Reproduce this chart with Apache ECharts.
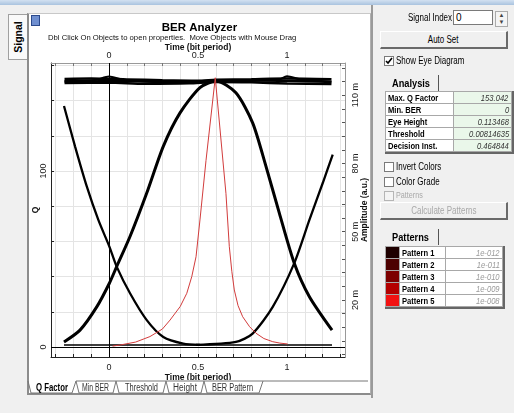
<!DOCTYPE html>
<html lang="en">
<head>
<meta charset="UTF-8">
<title>BER Analyzer</title>
<script src="https://cdn.jsdelivr.net/npm/echarts@6/dist/echarts.min.js"></script>
<style>
    body {
        margin: 0;
        width: 514px;
        height: 413px;
        background: #f0f0f0;
        font-family: "Liberation Sans", Arial, sans-serif;
        font-size: 10px;
        color: #000;
        position: relative;
        overflow: hidden;
    }
    .abs { position: absolute; white-space: nowrap; }
    /* 窄字体效果 */
    .n { display: inline-block; transform: scaleX(0.8); transform-origin: 0 50%; }
    .nr { display: inline-block; transform: scaleX(0.8); transform-origin: 100% 50%; }
    .nc { display: inline-block; transform: scaleX(0.8); transform-origin: 50% 50%; }
    .topbar { left: 0; top: 0; width: 514px; height: 5px; background: linear-gradient(#d3e1f1, #a9c3df); }
    .sidetab { left: 8px; top: 14px; width: 18px; height: 44px; background: #fafafa; border: 1px solid #a0a0a0; border-right: none; }
    .sidetab span { position: absolute; left: 50%; top: 50%; transform: translate(-50%, -50%) rotate(-90deg); font-weight: bold; font-size: 10.5px; }
    .panel { left: 27px; top: 13px; width: 341px; height: 379px; background: #fff; border-left: 2px solid #8c8c8c; border-top: 1px solid #c8c8c8; border-bottom: 2px solid #8c8c8c; border-right: 1px solid #b0b0b0; }
    #chart { left: 29px; top: 14px; width: 341px; height: 366px; }
    .icon { left: 31px; top: 15px; width: 7px; height: 9px; background: #6f8fd0; border: 1px solid #2c4a8c; }
    .rightline { left: 371px; top: 5px; width: 2px; height: 393px; background: #9a9a9a; }
    .btn { height: 15px; background: #f0f0f0; border: 1px solid #fff; border-right: 2px solid #6a6a6a; border-bottom: 2px solid #6a6a6a; text-align: center; line-height: 15px; box-sizing: content-box; }
    .chk { width: 8px; height: 8px; background: #fff; border: 1px solid #7a7a7a; }
    .chk.off { background: #f4f4f4; border-color: #b5b5b5; }
    .tabhead { font-weight: bold; font-size: 11px; border-right: 1px solid #555; padding: 2px 0 2px 7px; width: 46px; }
    table { border-collapse: collapse; table-layout: fixed; font-size: 9.5px; }
    td { border: 1px solid #a8a8a8; height: 11px; padding: 0 2px; line-height: 11px; white-space: nowrap; overflow: hidden; }
    .tbl { border-right: 2px solid #666; border-bottom: 2px solid #666; background: #fff; }
    .lab { font-weight: bold; }
    .val { font-style: italic; text-align: right; background: #eaf7ea; color: #333; }
    .pval { font-style: italic; text-align: right; color: #9a9a9a; }
</style>
</head>
<body>
<div class="abs topbar"></div>
<div class="abs sidetab"><span>Signal</span></div>
<div class="abs panel"></div>
<div class="abs" id="chart"></div>
<div class="abs icon"></div>
<svg class="abs" style="left:27px;top:379px" width="345" height="16">
    <polyline points="1,2 4,14 45,14 49,2 341,2" fill="none" stroke="#777"/>
    <polyline points="49,2 52,14 86,14 89,2" fill="none" stroke="#777"/>
    <polyline points="89,2 92,14 136,14 139,2" fill="none" stroke="#777"/>
    <polyline points="139,2 142,14 174,14 177,2" fill="none" stroke="#777"/>
    <polyline points="177,2 180,14 232,14 236,2" fill="none" stroke="#777"/>
    <text x="9" y="12" font-size="10" font-weight="bold" font-family="Liberation Sans" textLength="32" lengthAdjust="spacingAndGlyphs">Q Factor</text>
    <text x="55" y="12" font-size="10" fill="#333" font-family="Liberation Sans" textLength="27" lengthAdjust="spacingAndGlyphs">Min BER</text>
    <text x="98" y="12" font-size="10" fill="#333" font-family="Liberation Sans" textLength="33" lengthAdjust="spacingAndGlyphs">Threshold</text>
    <text x="146" y="12" font-size="10" fill="#333" font-family="Liberation Sans" textLength="24" lengthAdjust="spacingAndGlyphs">Height</text>
    <text x="185" y="12" font-size="10" fill="#333" font-family="Liberation Sans" textLength="41" lengthAdjust="spacingAndGlyphs">BER Pattern</text>
</svg>
<div class="abs rightline"></div>

<!-- right side controls -->
<div class="abs" style="left:380px;top:12px;width:72px;text-align:right"><span class="nr">Signal Index</span></div>
<div class="abs" style="left:453px;top:10px;width:40px;height:15px;background:#fff;border:1px solid #7a7a7a;line-height:13px;padding-left:2px;box-sizing:border-box;">0</div>
<div class="abs" style="left:495px;top:11px;width:11px;height:14px;border:1px solid #aaa;background:#f4f4f4;font-size:6px;line-height:7px;text-align:center;color:#444">▲<br>▼</div>
<div class="abs btn" style="left:380px;top:31px;width:125px"><span class="nc">Auto Set</span></div>
<div class="abs chk" style="left:384px;top:56px"><svg width="8" height="8" style="position:absolute;left:0;top:0"><polyline points="1,4 3,6 7,1" fill="none" stroke="#000" stroke-width="1.6"/></svg></div>
<div class="abs" style="left:396px;top:55px"><span class="n">Show Eye Diagram</span></div>

<div class="abs tabhead" style="left:385px;top:75px"><span class="n" style="transform:scaleX(0.84)">Analysis</span></div>
<div class="abs tbl" style="left:385px;top:91px">
    <table id="analysis"><colgroup><col style="width:57px"><col style="width:58px"></colgroup></table>
</div>

<div class="abs chk" style="left:384px;top:162px"></div>
<div class="abs" style="left:396px;top:161px"><span class="n">Invert Colors</span></div>
<div class="abs chk" style="left:384px;top:177px"></div>
<div class="abs" style="left:396px;top:176px"><span class="n">Color Grade</span></div>
<div class="abs chk off" style="left:384px;top:191px"></div>
<div class="abs" style="left:396px;top:190px;color:#a8a8a8;font-size:9px"><span class="n">Patterns</span></div>
<div class="abs btn" style="left:380px;top:202px;width:125px;color:#a8a8a8"><span class="nc">Calculate Patterns</span></div>

<div class="abs tabhead" style="left:385px;top:229px"><span class="n" style="transform:scaleX(0.84)">Patterns</span></div>
<div class="abs tbl" style="left:385px;top:246px">
    <table id="patterns"><colgroup><col style="width:14px"><col style="width:40px"><col style="width:57px"></colgroup></table>
</div>

<script>
    // 右侧面板数据
    var analysisNames = ['Max. Q Factor', 'Min. BER', 'Eye Height', 'Threshold', 'Decision Inst.'];
    var analysisValues = ['153.042', '0', '0.113468', '0.00814635', '0.464844'];
    var patternNames = ['Pattern 1', 'Pattern 2', 'Pattern 3', 'Pattern 4', 'Pattern 5'];
    var patternValues = ['1e-012', '1e-011', '1e-010', '1e-009', '1e-008'];
    var patternColors = ['#1e0000', '#4c0000', '#7c0000', '#b40000', '#f21212'];

    // 坐标轴刻度
    var timeTicks = [-0.3, -0.2, -0.1, 0, 0.1, 0.2, 0.3, 0.4, 0.5, 0.6, 0.7, 0.8, 0.9, 1, 1.1, 1.2, 1.3];
    var timeLabels = [0, 0.5, 1];
    var qTicks = [0, 20, 40, 60, 80, 100, 120, 140, 160];
    var qLabels = [0, 100];
    var ampTicks = [-4, 2, 8, 14, 20, 26, 32, 38, 44, 50, 56, 62, 68, 74, 80, 86, 92, 98, 104, 110, 116, 122];
    var ampLabels = [20, 50, 80, 110];

    // Q 因子曲线 [time, Q]
    var qFactor = [[0.02, 0.5], [0.062, 1.1], [0.15, 2.8], [0.23, 5.9], [0.3, 10.2], [0.343, 15.3], [0.4, 23.0],
        [0.437, 30.5], [0.465, 40.0], [0.489, 51.3], [0.511, 72.2], [0.545, 106.0], [0.597, 153.0],
        [0.657, 87.3], [0.676, 57.0], [0.69, 43.0], [0.704, 32.4], [0.725, 23.5], [0.751, 17.2],
        [0.79, 11.5], [0.826, 7.8], [0.87, 4.8], [0.92, 3.0], [0.96, 2.2], [1.004, 1.7]];

    // 眼图轨迹 [time, amplitude (m)]
    var fallLeft = [[-0.253, 105.2], [-0.191, 87.5], [-0.125, 69.9], [-0.06, 55.2], [0.002, 43.5], [0.043, 34.7],
        [0.118, 23.0], [0.212, 11.2], [0.305, 3.8], [0.417, 0.9], [0.511, 0.3]];
    var pulse = [[-0.253, 1.6], [-0.163, 6.8], [-0.069, 17.0], [0.002, 27.4], [0.043, 34.7], [0.118, 47.9],
        [0.212, 67.0], [0.305, 87.5], [0.399, 102.2], [0.511, 113.3], [0.601, 116.2], [0.713, 111.0],
        [0.807, 97.8], [0.882, 78.7], [0.957, 58.2], [1.041, 36.2], [1.126, 21.5], [1.253, 6.8]];
    var riseRight = [[0.489, 0.3], [0.713, 1.6], [0.807, 5.3], [0.92, 17.0], [1.041, 36.2], [1.126, 55.2],
        [1.201, 71.4], [1.257, 83.9]];
    var railLow = [[-0.253, 0.3], [1.253, 0.3]];
    var railA = [[-0.25, 117.1], [-0.1, 117.3], [0.1, 116.9], [0.3, 116.5], [0.5, 116.3], [0.6, 116.7], [0.8, 117.0], [1.0, 117.3], [1.25, 117.0]];
    var railB = [[-0.25, 115.3], [0.0, 115.5], [0.2, 115.0], [0.45, 115.2], [0.6, 115.8], [0.8, 115.6], [1.0, 115.1], [1.25, 114.9]];
    var railC = [[-0.25, 116.2], [-0.08, 116.6], [0.0, 118.2], [0.08, 116.8], [0.3, 115.8], [0.55, 116.0], [0.75, 116.4], [0.95, 116.7], [1.0, 118.3], [1.08, 116.8], [1.25, 116.0]];
    var railD = [[-0.25, 116.0], [0.15, 116.1], [0.35, 115.7], [0.6, 116.3], [0.85, 116.4], [1.25, 115.8]];

    function nar(text, origin) {
        return '<span class="' + origin + '">' + text + '</span>';
    }
    var aRows = '';
    analysisNames.forEach(function (n, i) {
        aRows += '<tr><td class="lab">' + nar(n, 'n') + '</td><td class="val">' + nar(analysisValues[i], 'nr') + '</td></tr>';
    });
    document.getElementById('analysis').insertAdjacentHTML('beforeend', aRows);
    var pRows = '';
    patternNames.forEach(function (n, i) {
        pRows += '<tr><td style="background:' + patternColors[i] + '"></td><td class="lab">' + nar(n, 'n') + '</td><td class="pval">' + nar(patternValues[i], 'nr') + '</td></tr>';
    });
    document.getElementById('patterns').insertAdjacentHTML('beforeend', pRows);

    var chart = echarts.init(document.getElementById('chart'));
    var font = 'Liberation Sans';
    var labelStyle = { fontFamily: font, fontSize: 9, color: '#222' };
    var nameStyle = { fontFamily: font, fontSize: 8.5, fontWeight: 'bold', color: '#111' };

    function eyeLine(data, width) {
        return {
            type: 'line', xAxisIndex: 0, yAxisIndex: 1, data: data, showSymbol: false, smooth: 0.25,
            silent: true, lineStyle: { color: '#000', width: width }, z: 3
        };
    }

    var option = {
        backgroundColor: '#fff',
        animation: false,
        title: {
            text: 'BER Analyzer', left: 'center', top: 3,
            textStyle: { fontFamily: font, fontSize: 11.5, fontWeight: 'bold', color: '#000' }
        },
        graphic: [{
            type: 'text', left: 19, top: 20,
            style: { text: 'Dbl Click On Objects to open properties.  Move Objects with Mouse Drag', fontFamily: font, fontSize: 7.7, fill: '#111' }
        }],
        grid: { left: 22, top: 49, width: 294, height: 294, containLabel: false, outerBoundsMode: 'none' },
        xAxis: [{
            type: 'value', position: 'bottom', min: -0.326, max: 1.326,
            axisLine: { onZero: false, lineStyle: { color: '#222' } },
            axisTick: { inside: true, length: 3, customValues: timeTicks, lineStyle: { color: '#222' } },
            axisLabel: Object.assign({ customValues: timeLabels, margin: 6 }, labelStyle),
            splitLine: { show: true, lineStyle: { color: '#e4e4e4' } },
            name: 'Time (bit period)', nameLocation: 'middle', nameGap: 16, nameMoveOverlap: false, nameTextStyle: nameStyle
        }, {
            type: 'value', position: 'top', min: -0.326, max: 1.326,
            axisLine: { onZero: false, lineStyle: { color: '#999' } },
            axisTick: { inside: true, length: 3, customValues: timeTicks, lineStyle: { color: '#777' } },
            axisLabel: Object.assign({ customValues: timeLabels, margin: 3 }, labelStyle),
            splitLine: { show: false },
            name: 'Time (bit period)', nameLocation: 'middle', nameGap: 11, nameMoveOverlap: false, nameTextStyle: nameStyle
        }],
        yAxis: [{
            type: 'value', position: 'left', min: -5.7, max: 161.4,
            axisLine: { show: true, onZero: false, lineStyle: { color: '#222' } },
            axisTick: { show: true, inside: true, length: 3, customValues: qTicks, lineStyle: { color: '#222' } },
            axisLabel: Object.assign({ customValues: qLabels, rotate: 90, margin: 3 }, labelStyle),
            splitLine: { show: true, lineStyle: { color: '#e4e4e4' } },
            name: 'Q', nameLocation: 'middle', nameRotate: 90, nameGap: 11, nameMoveOverlap: false, nameTextStyle: nameStyle
        }, {
            type: 'value', position: 'right', min: -5.0, max: 124.1,
            axisLine: { show: true, onZero: false, lineStyle: { color: '#999' } },
            axisTick: { show: true, inside: true, length: 3, customValues: ampTicks, lineStyle: { color: '#555' } },
            axisLabel: Object.assign({ customValues: ampLabels, rotate: 90, margin: 6, formatter: function (v) { return v + ' m'; } }, labelStyle),
            splitLine: { show: false },
            name: 'Amplitude (a.u.)', nameLocation: 'middle', nameRotate: 90, nameGap: 15, nameMoveOverlap: false, nameTextStyle: nameStyle
        }],
        series: [
            eyeLine(railA, 2.5), eyeLine(railB, 2.5), eyeLine(railC, 2), eyeLine(railD, 2.5),
            eyeLine(railLow, 1.5),
            eyeLine(fallLeft, 2.3), eyeLine(pulse, 3), eyeLine(riseRight, 2.3),
            {
                type: 'line', xAxisIndex: 0, yAxisIndex: 0, data: qFactor, showSymbol: false, silent: true,
                lineStyle: { color: '#d23c3c', width: 1 }, z: 4,
                markLine: {
                    silent: true, symbol: 'none', label: { show: false },
                    lineStyle: { color: '#000', width: 1, type: 'solid' },
                    data: [{ xAxis: 0 }, { yAxis: 0 }]
                }
            }
        ]
    };
    chart.setOption(option);
</script>
</body>
</html>
